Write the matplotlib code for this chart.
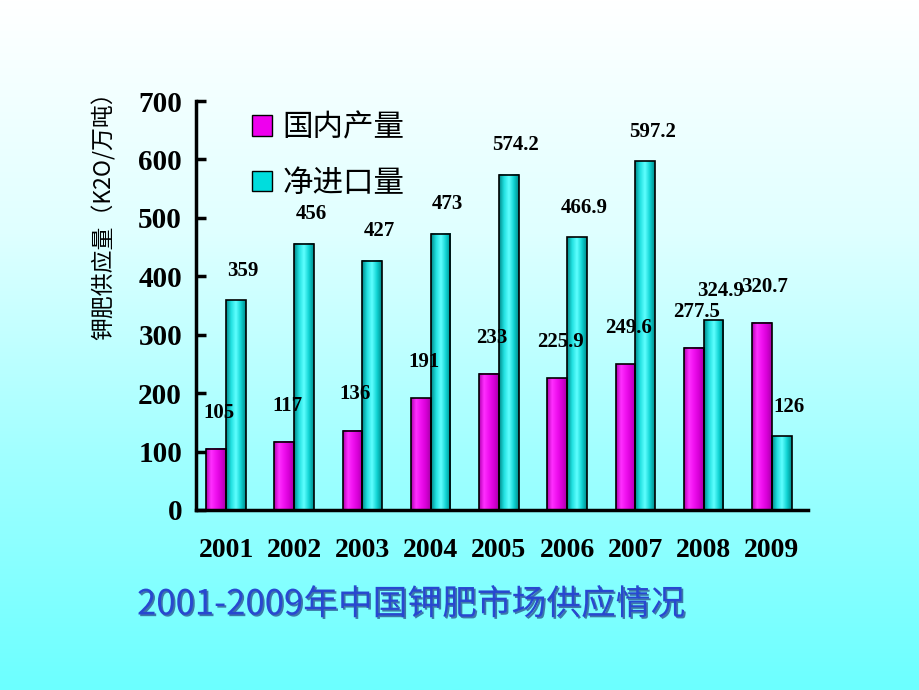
import numpy as np
import matplotlib
matplotlib.use('Agg')
import matplotlib.pyplot as plt
from matplotlib import patheffects as pe
from matplotlib.colors import LinearSegmentedColormap
from matplotlib.patches import Patch

# ---------------- data ----------------
years = ['2001', '2002', '2003', '2004', '2005', '2006', '2007', '2008', '2009']
domestic = [105, 117, 136, 191, 233, 225.9, 249.6, 277.5, 320.7]
imports = [359, 456, 427, 473, 574.2, 466.9, 597.2, 324.9, 126]
domestic_labels = ['105', '117', '136', '191', '233', '225.9', '249.6', '277.5', '320.7']
import_labels = ['359', '456', '427', '473', '574.2', '466.9', '597.2', '324.9', '126']
series_names = ['国内产量', '净进口量']
y_ticks = [0, 100, 200, 300, 400, 500, 600, 700]
y_label = '钾肥供应量（K2O/万吨）'
title = '2001-2009年中国钾肥市场供应情况'

CJK = ['Noto Sans CJK SC', 'DejaVu Sans']
SERIF = 'Liberation Serif'

fig = plt.figure(figsize=(9.2, 6.9), dpi=100)

# background gradient (white top -> cyan bottom)
bg = fig.add_axes([0, 0, 1, 1], zorder=-10)
bg.axis('off')
grad = np.linspace(0, 1, 256).reshape(-1, 1)
cmap_bg = LinearSegmentedColormap.from_list('bg', ['#FFFFFF', '#E0FFFF', '#A0FFFF', '#6CFFFF'])
bg.imshow(grad, aspect='auto', cmap=cmap_bg, extent=[0, 1, 0, 1], origin='upper')

ax = fig.add_axes([196 / 920, 1 - 510 / 690, 612 / 920, 409 / 690])
ax.patch.set_alpha(0)

x = np.arange(len(years))
w = 0.29
b1 = ax.bar(x - w / 2, domestic, w, facecolor='none', edgecolor='black', linewidth=1.2, zorder=3)
b2 = ax.bar(x + w / 2, imports, w, facecolor='none', edgecolor='black', linewidth=1.2, zorder=3)

cmap_m = LinearSegmentedColormap.from_list('m', ['#B000B0', '#FF30FF', '#F010F0', '#D800D8', '#A800A8'])
cmap_c = LinearSegmentedColormap.from_list('c', ['#008888', '#20E0E0', '#60FFFF', '#10D4D4', '#008C8C'])
hgrad = np.linspace(0, 1, 64).reshape(1, -1)
for bars, cm in ((b1, cmap_m), (b2, cmap_c)):
    for p in bars:
        bb = p.get_bbox()
        ax.imshow(hgrad, aspect='auto', cmap=cm,
                  extent=[bb.x0, bb.x1, bb.y0, bb.y1], zorder=2)

# value labels
for xi, v, s in zip(x, domestic, domestic_labels):
    ax.annotate(s, (xi - w / 2, v), xytext=(2, 26), textcoords='offset points',
                ha='center', va='center', fontsize=15, fontweight='bold',
                family=SERIF, zorder=5)
for xi, v, s in zip(x, imports, import_labels):
    ax.annotate(s, (xi + w / 2, v), xytext=(5, 21), textcoords='offset points',
                ha='center', va='center', fontsize=15, fontweight='bold',
                family=SERIF, zorder=5)

ax.set_xlim(-0.44, 8.53)
ax.set_ylim(0, 700)
ax.set_yticks(y_ticks)
ax.set_yticklabels([str(t) for t in y_ticks], fontsize=21, fontweight='bold', family=SERIF)
ax.set_xticks(x)
ax.set_xticklabels(years, fontsize=20, fontweight='bold', family=SERIF)
ax.tick_params(axis='y', direction='in', length=7, width=2.5, pad=10)
ax.tick_params(axis='x', length=0, pad=20)
for s in ('top', 'right'):
    ax.spines[s].set_visible(False)
for s in ('left', 'bottom'):
    ax.spines[s].set_linewidth(2.5)

handles = [Patch(facecolor='#EE00EE', edgecolor='black', linewidth=1),
           Patch(facecolor='#00DDDD', edgecolor='black', linewidth=1)]
ax.legend(handles, series_names, loc='upper left', bbox_to_anchor=(0.047, 1.04),
          frameon=False, prop={'family': CJK, 'size': 22},
          handlelength=0.65, handleheight=0.65, handletextpad=0.35, labelspacing=0.8)

fig.text(104 / 920, 1 - 210 / 690, y_label, rotation=90, fontsize=16.5,
         family=CJK, ha='center', va='center')

fig.text(137 / 920, 1 - 605 / 690, title, fontsize=25, color='#2848D0',
         family=CJK, ha='left', va='center',
         path_effects=[pe.SimplePatchShadow(offset=(1.2, -1.2), shadow_rgbFace='#102070', alpha=0.6),
                       pe.Normal()])

fig.savefig('out.png', dpi=100)
